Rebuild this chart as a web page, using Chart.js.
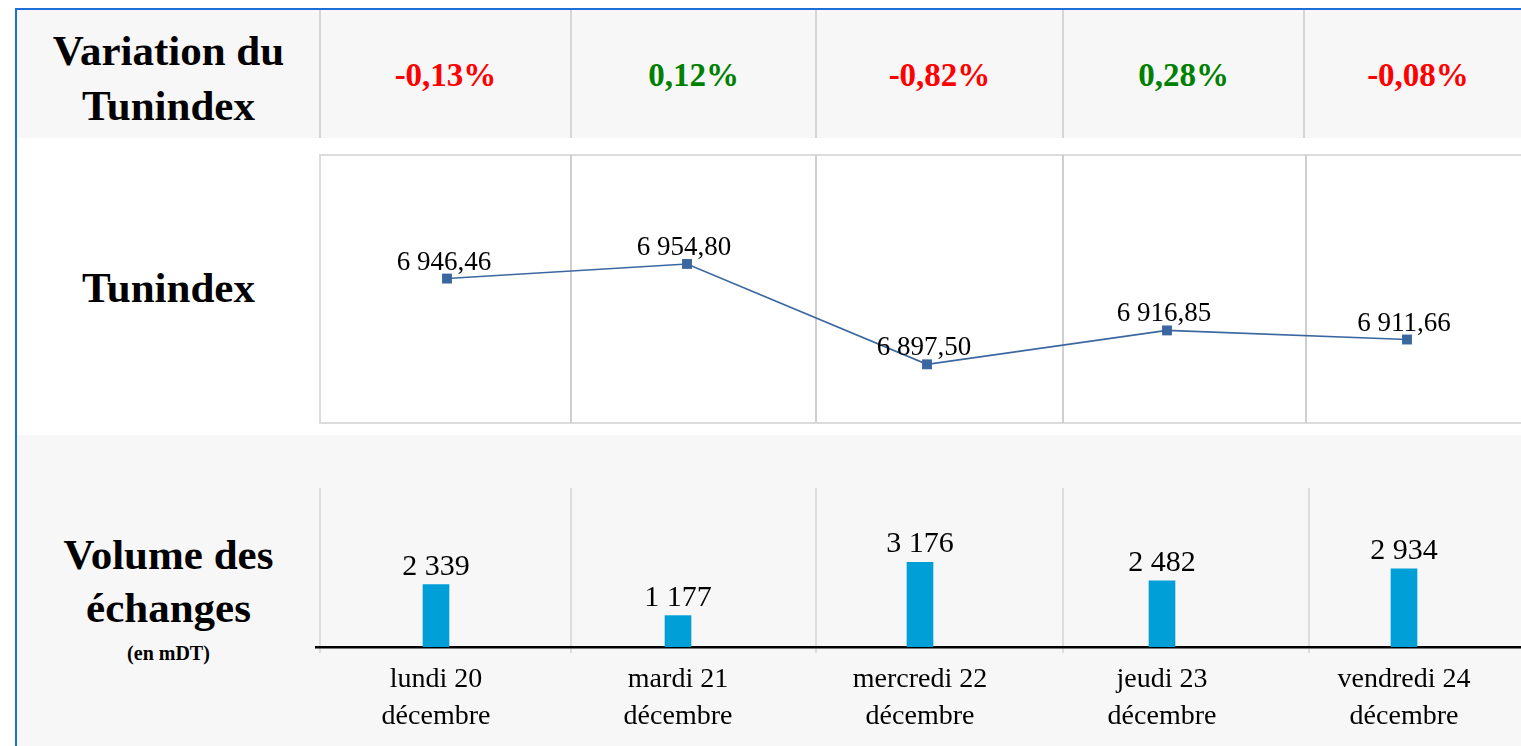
<!DOCTYPE html>
<html><head><meta charset="utf-8">
<script src="https://cdn.jsdelivr.net/npm/chart.js@4/dist/chart.umd.min.js"></script>
<style>
html,body{margin:0;padding:0;width:1521px;height:746px;overflow:hidden;background:#fff;font-family:"Liberation Serif","Times New Roman",serif;}
#page{position:absolute;left:0;top:0;width:1521px;height:746px;overflow:hidden;}
.abs{position:absolute;}
.lbl{position:absolute;font-weight:bold;color:#000;text-align:center;white-space:nowrap;}
</style></head><body><div id="page"></div>
<script>
// ---- data ----
const days = [["lundi 20","décembre"],["mardi 21","décembre"],["mercredi 22","décembre"],["jeudi 23","décembre"],["vendredi 24","décembre"]];
const variations = ["-0,13%","0,12%","-0,82%","0,28%","-0,08%"];
const tunindex = [6946.46, 6954.80, 6897.50, 6916.85, 6911.66];
const volumes = [2339, 1177, 3176, 2482, 2934];
const rowTitles = [["Variation du","Tunindex"],["Tunindex"],["Volume des","échanges"]];
const volumeUnit = "(en mDT)";

// ---- layout ----
const page = document.getElementById('page');
function box(css){const d=document.createElement('div');d.className='abs';Object.assign(d.style,css);page.appendChild(d);return d;}
function frNum(v,dec){const s=v.toFixed(dec).split('.');const i=s[0].replace(/\B(?=(\d{3})+(?!\d))/g,' ');return dec?i+','+s[1]:i;}

// backgrounds
box({left:'17px',top:'10px',width:'1504px',height:'128px',background:'#f7f7f7'});
box({left:'17px',top:'435px',width:'1504px',height:'311px',background:'#f7f7f7'});
// blue frame
box({left:'15px',top:'8px',width:'1530px',height:'800px',borderLeft:'2.5px solid #1d6fd6',borderTop:'2.5px solid #1d6fd6',boxSizing:'border-box'});

const headEdges=[320,571,816,1063,1304,1532];
headEdges.slice(0,5).forEach(x=>box({left:(x-1)+'px',top:'10px',width:'2px',height:'128px',background:'#d6d6d6'}));
// line chart frame
box({left:'319px',top:'154px',width:'1220px',height:'270px',border:'2px solid #dcdcdc',boxSizing:'border-box'});
[571,816,1063,1306].forEach(x=>box({left:(x-1)+'px',top:'155px',width:'2px',height:'268px',background:'#cfcfcf'}));
// volume dividers
[320,571,816,1063,1309].forEach(x=>box({left:(x-1)+'px',top:'488px',width:'2px',height:'165px',background:'#dedede'}));

// row titles
function title(lines,top,size,lh){const d=document.createElement('div');d.className='lbl';
  Object.assign(d.style,{left:'17px',width:'303px',top:top+'px',fontSize:size+'px',lineHeight:lh+'px'});
  d.innerHTML=lines.join('<br>');page.appendChild(d);}
title(rowTitles[0],23,43,55);
title(rowTitles[1],260,43,55);
title(rowTitles[2],528,43,53);
title([volumeUnit],641,20,24);

// variations
variations.forEach((v,i)=>{const d=document.createElement('div');d.className='lbl';
  Object.assign(d.style,{left:headEdges[i]+'px',width:(headEdges[i+1]-headEdges[i])+'px',top:'55px',fontSize:'33px',lineHeight:'40px',color:v.trim().startsWith('-')?'#ff0000':'#008000'});
  d.textContent=v;page.appendChild(d);});

// chart containers (line chart reserves 7px for point overflow on each side)
const lineWrap=box({left:'320px',top:'148px',width:'1214px',height:'282px'});
const lc=document.createElement('canvas');lineWrap.appendChild(lc);
const barWrap=box({left:'315px',top:'470px',width:'1210px',height:'276px'});
const bc=document.createElement('canvas');barWrap.appendChild(bc);

const lineLabels={id:'lineLabels',afterDatasetsDraw(chart){const ctx=chart.ctx;ctx.save();
  ctx.font='27px "Liberation Serif", serif';ctx.fillStyle='#000';ctx.textAlign='center';ctx.textBaseline='alphabetic';
  chart.getDatasetMeta(0).data.forEach((p,i)=>ctx.fillText(frNum(tunindex[i],2),p.x-3,p.y-9));ctx.restore();}};
const barLabels={id:'barLabels',afterDatasetsDraw(chart){const ctx=chart.ctx;ctx.save();
  ctx.font='30px "Liberation Serif", serif';ctx.fillStyle='#000';ctx.textAlign='center';ctx.textBaseline='alphabetic';
  chart.getDatasetMeta(0).data.forEach((b,i)=>ctx.fillText(frNum(volumes[i],0),b.x,b.y-10));ctx.restore();}};

Chart.defaults.font.family='"Liberation Serif", "Times New Roman", serif';
new Chart(lc,{type:'line',data:{labels:days.map(d=>d.join(' ')),datasets:[{data:tunindex,borderColor:'#3b67a0',borderWidth:1.6,
  pointStyle:'rect',pointRadius:7,pointHoverRadius:7,pointBorderWidth:0,pointBackgroundColor:'#3b67a0',tension:0,clip:false}]},
  options:{responsive:true,maintainAspectRatio:false,animation:false,devicePixelRatio:1,layout:{padding:0},
  plugins:{legend:{display:false},tooltip:{enabled:false}},
  scales:{x:{display:false,offset:true},y:{display:false,min:6864,max:7017}}},plugins:[lineLabels]});

new Chart(bc,{type:'bar',data:{labels:days,datasets:[{data:volumes,backgroundColor:'#009fd7',barThickness:26}]},
  options:{responsive:true,maintainAspectRatio:false,animation:false,devicePixelRatio:1,layout:{padding:{top:17,left:0,right:0,bottom:0}},
  plugins:{legend:{display:false},tooltip:{enabled:false}},
  scales:{x:{grid:{display:true,drawOnChartArea:false,drawTicks:false},border:{display:true,color:'#000',width:2.5},
     ticks:{color:'#000',font:{size:28,lineHeight:1.32},padding:14,maxRotation:0,autoSkip:false},
     afterFit:s=>{s.height=99;}},
   y:{display:false,min:0,max:6000}}},plugins:[barLabels]});
</script></body></html>
